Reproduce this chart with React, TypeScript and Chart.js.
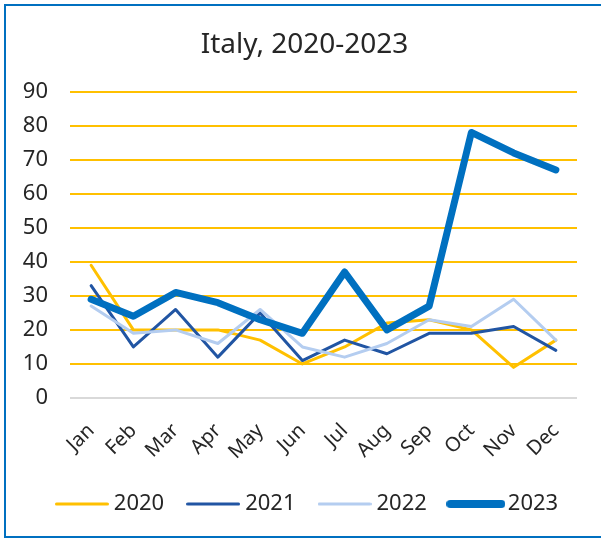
import React, { useEffect, useRef } from "react";
import { Chart, registerables } from "chart.js";

Chart.register(...registerables);

const months = ["Jan", "Feb", "Mar", "Apr", "May", "Jun", "Jul", "Aug", "Sep", "Oct", "Nov", "Dec"];
const seriesLabels = ["2020", "2021", "2022", "2023"];
const values2020 = [39, 20, 20, 20, 17, 10, 15, 22, 23, 20, 9, 17];
const values2021 = [33, 15, 26, 12, 25, 11, 17, 13, 19, 19, 21, 14];
const values2022 = [27, 19, 20, 16, 26, 15, 12, 16, 23, 21, 29, 17];
const values2023 = [29, 24, 31, 28, 23, 19, 37, 20, 27, 78, 72, 67];
const yMin = 0;
const yMax = 90;
const yStep = 10;

const colors = ["#FFC000", "#2155A3", "#B4CDF0", "#0070C0"];
const widths = [3, 3, 3, 7];
const FONT = "'Noto Sans', 'Open Sans', sans-serif";
const TEXT = "#262626";

function makeLegendLine(color: string, lw: number, len: number) {
  const c = document.createElement("canvas");
  c.width = len;
  c.height = 12;
  const ctx = c.getContext("2d")!;
  ctx.strokeStyle = color;
  ctx.lineWidth = lw;
  ctx.lineCap = "round";
  ctx.beginPath();
  ctx.moveTo(lw / 2, 6);
  ctx.lineTo(len - lw / 2, 6);
  ctx.stroke();
  return c;
}

const shiftPlugin = {
  id: "shiftBlocks",
  afterLayout(chart: any) {
    const t = chart.titleBlock;
    if (t) {
      t.left += 9;
      t.right += 9;
    }
    const lg = chart.legend;
    if (lg) {
      lg.left += 14;
      lg.right += 14;
    }
  },
};

export default function App() {
  const ref = useRef<HTMLCanvasElement | null>(null);

  useEffect(() => {
    if (!ref.current) return;
    const imgs = colors.map((c, i) => makeLegendLine(c, widths[i] + (i === 3 ? 1 : 0), i === 3 ? 59 : 54));
    const data = [values2020, values2021, values2022, values2023];
    const chart = new Chart(ref.current, {
      type: "line",
      plugins: [shiftPlugin],
      data: {
        labels: months,
        datasets: seriesLabels.map((label, i) => ({
          label,
          data: data[i],
          borderColor: colors[i],
          backgroundColor: colors[i],
          borderWidth: widths[i],
          pointRadius: 0,
          pointHoverRadius: 0,
          tension: 0,
          borderJoinStyle: "round" as const,
          borderCapStyle: "round" as const,
          order: 3 - i,
        })),
      },
      options: {
        responsive: false,
        animation: false,
        layout: { padding: { left: 14, right: 24, top: 0, bottom: 14 } },
        plugins: {
          tooltip: { enabled: false },
          title: {
            display: true,
            text: "Italy, 2020-2023",
            color: TEXT,
            font: { family: FONT, size: 28, weight: "normal" },
            padding: { top: 28, bottom: 30 },
          },
          legend: {
            display: true,
            position: "bottom",
            labels: {
              usePointStyle: true,
              pointStyleWidth: 42,
              padding: 28,
              color: TEXT,
              font: { family: FONT, size: 22 },
              sort: (a: any, b: any) => a.datasetIndex - b.datasetIndex,
              generateLabels: (ch: any) =>
                (Chart.defaults.plugins.legend.labels.generateLabels as any)(ch).map((l: any) => ({
                  ...l,
                  pointStyle: imgs[l.datasetIndex],
                })),
            },
          },
        },
        scales: {
          x: {
            offset: true,
            grid: { display: false },
            border: { display: false },
            ticks: {
              autoSkip: false,
              maxRotation: 45,
              minRotation: 45,
              padding: 13,
              color: TEXT,
              font: { family: FONT, size: 20 },
            },
            afterFit: (s: any) => {
              s.height = 67;
            },
          },
          y: {
            min: yMin,
            max: yMax,
            border: { display: false },
            grid: {
              drawTicks: false,
              lineWidth: 2,
              color: (ctx: any) => (ctx.tick && ctx.tick.value === 0 ? "#D9D9D9" : "#FFC000"),
            },
            ticks: {
              stepSize: yStep,
              autoSkip: false,
              padding: 22,
              color: TEXT,
              font: { family: FONT, size: 22 },
            },
            afterFit: (s: any) => {
              s.width = 56;
            },
          },
        },
      },
    });
    return () => chart.destroy();
  }, []);

  return (
    <div style={{ position: "fixed", left: 0, top: 0, width: 601, height: 539, background: "#fff", overflow: "hidden" }}>
      <div
        style={{
          position: "absolute",
          left: 4,
          top: 4,
          width: 610,
          height: 534,
          boxSizing: "border-box",
          border: "2px solid #0070C0",
        }}
      />
      <canvas ref={ref} width={601} height={539} style={{ position: "absolute", left: 0, top: 0, display: "block" }} />
    </div>
  );
}
